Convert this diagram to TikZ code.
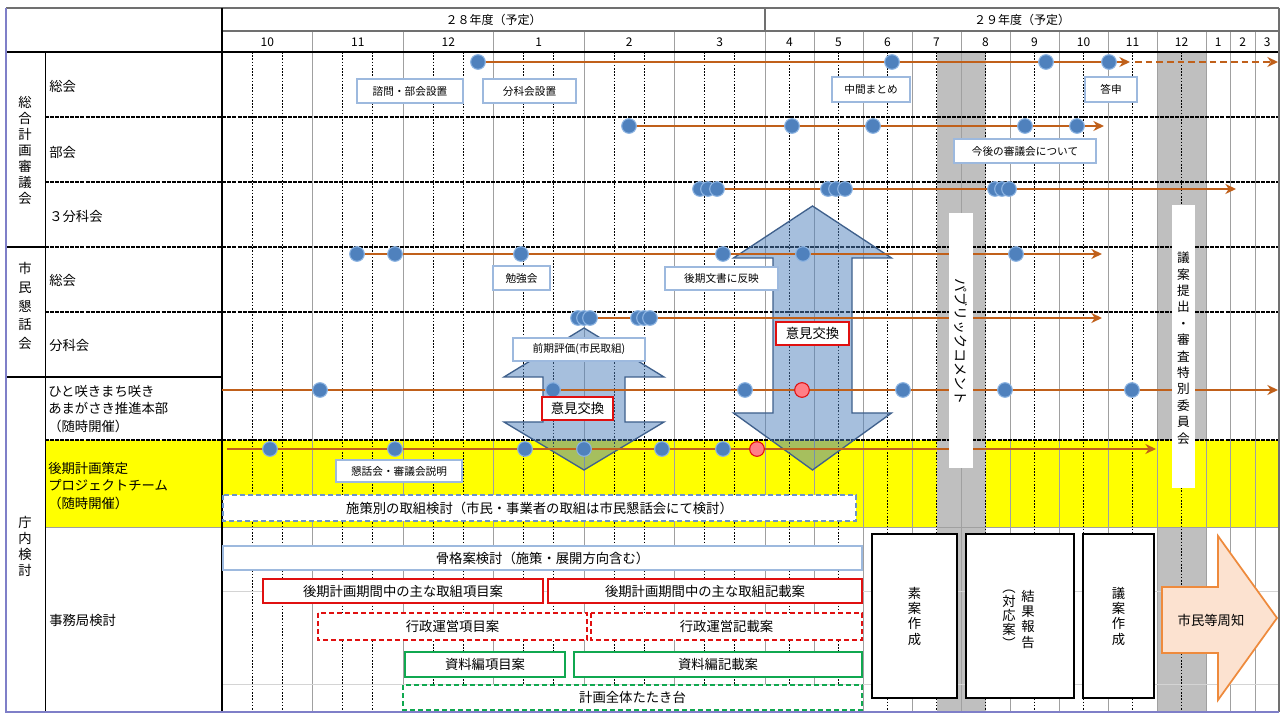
\documentclass[tikz,border=0pt]{standalone}
\usepackage{fontspec}
\setmainfont{Noto Sans CJK JP}
\usepackage{tikz}
\usetikzlibrary{arrows.meta}
\definecolor{plan_orange}{HTML}{C0601A}
\definecolor{plan_blue}{HTML}{4F81BD}
\definecolor{plan_circleline}{HTML}{8DB4E2}
\definecolor{plan_boxblue}{HTML}{9DB9DE}
\definecolor{plan_dashblue}{HTML}{6C94C8}
\definecolor{plan_red}{HTML}{E01010}
\definecolor{plan_pink}{HTML}{FF7F86}
\definecolor{plan_green}{HTML}{10A850}
\definecolor{plan_gray}{HTML}{BFBFBF}
\definecolor{plan_grid}{HTML}{A0A0A0}
\definecolor{plan_frame}{HTML}{7F7FC8}
\definecolor{plan_yellow}{HTML}{FFFF00}
\definecolor{plan_peach}{HTML}{FCE2D0}
\definecolor{plan_peachline}{HTML}{EE8A3C}
\definecolor{plan_arrowline}{HTML}{3F608C}

%% Rahmen + Text in der Mitte
\newcommand{\planbox}[6]{%
    \draw[#1] #4 rectangle #5;
    \path #4 -- node[#3] (#2) {#6} #5;
}

\begin{document}
\begin{tikzpicture}[
    x=0.75pt, y=-0.75pt,
    gridsolid/.style={draw=plan_grid, line width=0.7pt},
    griddot/.style={draw=black, line width=0.6pt, dash pattern=on 1.2pt off 1.2pt},
    rowsep/.style={draw=black, line width=1pt, dash pattern=on 3pt off 0.8pt},
    hdr/.style={font=\fontsize{9}{10}\selectfont, inner sep=0pt},
    rowlbl/.style={anchor=west, align=left, font=\fontsize{10}{13}\selectfont, inner sep=0pt},
    grouplbl/.style={align=center, inner sep=0pt},
    flow/.style={draw=plan_orange, line width=2pt, -{Stealth[length=8pt, width=7.5pt]}},
    evt/.style={circle, fill=plan_blue, draw=plan_circleline, line width=0.8pt, minimum size=11pt, inner sep=0pt},
    evtred/.style={evt, fill=plan_pink, draw=plan_red},
    bigarrow/.style={fill=plan_blue, fill opacity=0.5, draw=plan_arrowline, line width=1pt},
    lbl/.style={fill=white, draw=plan_boxblue, line width=1.3pt},
    lbltext/.style={font=\fontsize{8}{9}\selectfont, inner sep=0pt},
    swapbox/.style={fill=white, draw=plan_red, line width=1.8pt},
    swaptext/.style={font=\fontsize{10}{11}\selectfont, inner sep=0pt},
    taskbox/.style={fill=white, line width=1.3pt},
    taskdash/.style={taskbox, dash pattern=on 4pt off 2pt},
    tasktext/.style={font=\fontsize{10}{11}\selectfont, inner sep=0pt},
    phasebox/.style={fill=white, draw=black, line width=2.2pt},
    stacktext/.style={align=center, inner sep=0pt, font=\fontsize{10}{11.5}\selectfont}
]
\useasboundingbox (0,0) rectangle (1282,716);
\fill[white] (0,0) rectangle (1282,716);

%% ---- 黄色の行（プロジェクトチーム） ----
\fill[plan_yellow] (45,440) rectangle (1279,527);

%% ---- グレーの期間 ----
\fill[plan_gray] (937,52) rectangle (986,712);
\fill[plan_gray] (1157,52) rectangle (1206,440);
\fill[plan_gray] (1157,527) rectangle (1206,712);

%% ---- 月の罫線 ----
\foreach \i in {1,...,6}
    \draw[gridsolid] ({222+90.5*\i},31) -- ({222+90.5*\i},712);
\foreach \i in {0,...,5}
    \foreach \j in {1,2}
        \draw[griddot] ({222+90.5*\i+30.17*\j},52) -- ({222+90.5*\i+30.17*\j},712);
\foreach \i in {1,...,9}
    \draw[gridsolid] ({765+49*\i},31) -- ({765+49*\i},712);
\foreach \i in {0,...,8}
    \draw[griddot] ({789.5+49*\i},52) -- ({789.5+49*\i},712);
\foreach \x in {1230.5,1255}
    \draw[gridsolid] (\x,31) -- (\x,712);

%% ---- 行の区切り ----
\foreach \y in {117,182,247,312,440}
    \draw[rowsep] (45,\y) -- (1279,\y);
\draw[black, line width=0.8pt] (6,247) -- (45,247);
\draw[black, line width=0.8pt] (6,377) -- (222,377);
\draw[plan_grid, line width=0.6pt] (45,527) -- (1279,527);
\foreach \y in {591,684}
    \draw[plan_grid!45, line width=0.5pt] (222,\y) -- (1279,\y);

%% ---- 外枠と見出しの線 ----
\draw[plan_grid!70!black, line width=0.8pt] (6,8) -- (1279,8);
\draw[plan_grid!70!black, line width=0.8pt] (222,31) -- (1279,31);
\draw[black, line width=1.3pt] (6,52) -- (1279,52);
\draw[black, line width=0.9pt] (222,8) -- (222,712);
\draw[plan_grid!70!black, line width=0.8pt] (765,8) -- (765,31);
\draw[black, line width=0.6pt] (45,52) -- (45,712);
\draw[plan_grid!70!black, line width=0.8pt] (1279,8) -- (1279,712);
\draw[plan_frame, line width=1pt] (6,8) -- (6,712) -- (1279,712);

%% ---- 見出し ----
\node[hdr] (year28) at (493.5,19.5) {２８年度（予定）};
\node[hdr] (year29) at (1022,19.5) {２９年度（予定）};
\foreach \m [count=\i from 0] in {10,11,12,1,2,3}
    \node[hdr] (mon28-\m) at ({267.25+90.5*\i},42) {\m};
\foreach \m [count=\i from 0] in {4,...,12}
    \node[hdr] (mon29-\m) at ({789.5+49*\i},42) {\m};
\foreach \m [count=\i from 0] in {1,2,3}
    \node[hdr] (mon30-\m) at ({1218.25+24.5*\i},42) {\m};

%% ---- 左の見出し ----
\node[grouplbl, font=\fontsize{10}{12}\selectfont] (grpCouncil) at (25,150) {総\\合\\計\\画\\審\\議\\会};
\node[grouplbl, font=\fontsize{10}{14}\selectfont] (grpForum) at (25,306) {市\\民\\懇\\話\\会};
\node[grouplbl, font=\fontsize{10}{12}\selectfont] (grpOffice) at (25,546) {庁\\内\\検\\討};

\node[rowlbl] (rowSoukai) at (49,86) {総会};
\node[rowlbl] (rowBukai) at (49,152) {部会};
\node[rowlbl] (rowBunka) at (49,216) {３分科会};
\node[rowlbl] (rowForum) at (49,280) {総会};
\node[rowlbl] (rowForumBunka) at (49,345) {分科会};
\node[rowlbl] (rowHonbu) at (48,409) {ひと咲きまち咲き\\あまがさき推進本部\\（随時開催）};
\node[rowlbl] (rowPT) at (48,486) {後期計画策定\\プロジェクトチーム\\（随時開催）};
\node[rowlbl] (rowJimu) at (49,620) {事務局検討};

%% ---- 意見交換の矢印 ----
\filldraw[bigarrow]
    (584,328) -- (664,377) -- (625,377) -- (625,422) -- (664,422)
    -- (584,470) -- (504,422) -- (543,422) -- (543,377) -- (504,377) -- cycle;
\filldraw[bigarrow]
    (812.5,206) -- (891.5,258) -- (852,258) -- (852,413) -- (891.5,413)
    -- (812.5,470) -- (733.5,413) -- (773,413) -- (773,258) -- (733.5,258) -- cycle;

%% ---- 審議会：総会 ----
\coordinate (sgStart) at (478,62);
\coordinate (sgEnd) at (1130,62);
\coordinate (sgNext) at (1135,62);
\coordinate (sgLast) at (1278,62);
\draw[flow] (sgStart) -- (sgEnd);
\draw[flow, dash pattern=on 5pt off 3pt] (sgNext) -- (sgLast);
\foreach \x [count=\i] in {478,892,1046,1109}
    \node[evt] (sg\i) at (\x,62) {};

%% ---- 審議会：部会 ----
\coordinate (bkStart) at (629,126);
\coordinate (bkEnd) at (1104,126);
\draw[flow] (bkStart) -- (bkEnd);
\foreach \x [count=\i] in {629,792,873,1025,1077}
    \node[evt] (bk\i) at (\x,126) {};

%% ---- 審議会：３分科会 ----
\coordinate (bnStart) at (700,189);
\coordinate (bnEnd) at (1236,189);
\draw[flow] (bnStart) -- (bnEnd);
\foreach \x [count=\i] in {700,708,717,828,836,845,995,1002,1009}
    \node[evt] (bn\i) at (\x,189) {};

%% ---- 懇話会：総会 ----
\coordinate (shStart) at (357,254);
\coordinate (shEnd) at (1102,254);
\draw[flow] (shStart) -- (shEnd);
\foreach \x [count=\i] in {357,395,521,723,803,1016}
    \node[evt] (sh\i) at (\x,254) {};

%% ---- 懇話会：分科会 ----
\coordinate (sbStart) at (580,318);
\coordinate (sbEnd) at (1102,318);
\draw[flow] (sbStart) -- (sbEnd);
\foreach \x [count=\i] in {578,584,590,638,644,650}
    \node[evt] (sb\i) at (\x,318) {};

%% ---- 推進本部 ----
\coordinate (hmStart) at (222,390);
\coordinate (hmEnd) at (1278,390);
\draw[flow] (hmStart) -- (hmEnd);
\foreach \x [count=\i] in {320,553,745,903,1005,1132}
    \node[evt] (hm\i) at (\x,390) {};
\node[evtred] (hmRed) at (802,390) {};

%% ---- プロジェクトチーム ----
\coordinate (ptStart) at (227,449);
\coordinate (ptEnd) at (1156,449);
\draw[flow] (ptStart) -- (ptEnd);
\foreach \x [count=\i] in {270,395,525,584,662,723}
    \node[evt] (pt\i) at (\x,449) {};
\node[evtred] (ptRed) at (757,449) {};

%% ---- 縦の白い帯 ----
\fill[white] (949,213) rectangle (973,468);
\node[rotate=-90, font=\fontsize{10.5}{12}\selectfont, inner sep=0pt] (pubcom) at (961,342) {パブリックコメント};
\fill[white] (1172,205) rectangle (1195,488);
\node[stacktext, font=\fontsize{9.5}{12.3}\selectfont] (gianTeishutsu) at (1183.5,348)
    {議\\案\\提\\出\\・\\審\\査\\特\\別\\委\\員\\会};

%% ---- 吹き出しラベル ----
\planbox{lbl}{lbShimon}{lbltext}{(357,79)}{(463,103)}{諮問・部会設置}
\planbox{lbl}{lbBunka}{lbltext}{(483,79)}{(576,103)}{分科会設置}
\planbox{lbl}{lbChukan}{lbltext}{(832,77)}{(910,102)}{中間まとめ}
\planbox{lbl}{lbToshin}{lbltext}{(1085,77)}{(1137,102)}{答申}
\planbox{lbl}{lbKongo}{lbltext}{(954,139)}{(1096,163)}{今後の審議会について}
\planbox{lbl}{lbBenkyo}{lbltext}{(493,266)}{(550,290)}{勉強会}
\planbox{lbl}{lbHanei}{lbltext}{(665,267)}{(778,290)}{後期文書に反映}
\planbox{lbl}{lbZenki}{lbltext}{(513,338)}{(645,361)}{前期評価(市民取組)}
\planbox{lbl}{lbSetsumei}{lbltext}{(336,460)}{(462,482)}{懇話会・審議会説明}
\planbox{swapbox}{swapA}{swaptext}{(542,397)}{(613,420)}{意見交換}
\planbox{swapbox}{swapB}{swaptext}{(776,322)}{(849,345)}{意見交換}

%% ---- 庁内の作業 ----
\planbox{taskdash, draw=plan_dashblue}{tkShisaku}{tasktext}{(223,495)}{(856,521)}{施策別の取組検討（市民・事業者の取組は市民懇話会にて検討）}
\planbox{taskbox, draw=plan_boxblue}{tkKokaku}{tasktext}{(223,546)}{(862,570)}{骨格案検討（施策・展開方向含む）}
\planbox{taskbox, draw=plan_red}{tkTorikumiKoumoku}{tasktext}{(263,579)}{(543,603)}{後期計画期間中の主な取組項目案}
\planbox{taskbox, draw=plan_red}{tkTorikumiKisai}{tasktext}{(548,579)}{(862,603)}{後期計画期間中の主な取組記載案}
\planbox{taskdash, draw=plan_red}{tkGyoseiKoumoku}{tasktext}{(318,613)}{(587,640)}{行政運営項目案}
\planbox{taskdash, draw=plan_red}{tkGyoseiKisai}{tasktext}{(591,613)}{(862,640)}{行政運営記載案}
\planbox{taskbox, draw=plan_green}{tkShiryoKoumoku}{tasktext}{(405,652)}{(565,677)}{資料編項目案}
\planbox{taskbox, draw=plan_green}{tkShiryoKisai}{tasktext}{(574,652)}{(862,677)}{資料編記載案}
\planbox{taskdash, draw=plan_green}{tkTatakidai}{tasktext}{(403,685)}{(862,710)}{計画全体たたき台}

%% ---- 素案・結果報告・議案 ----
\planbox{phasebox}{phSoan}{stacktext}{(872,534)}{(957,698)}{素\\案\\作\\成}
\draw[phasebox] (966,534) rectangle (1074,698);
\node[stacktext] (phKekka) at (1028,619) {結\\果\\報\\告};
\node[stacktext, font=\fontsize{10}{10.5}\selectfont] (phTaiou) at (1009,619) {︵\\対\\応\\案\\︶};
\planbox{phasebox}{phGian}{stacktext}{(1083,534)}{(1154,698)}{議\\案\\作\\成}

%% ---- 市民等周知 ----
\filldraw[fill=plan_peach, draw=plan_peachline, line width=1.3pt]
    (1162,587) -- (1218,587) -- (1218,536) -- (1277,618)
    -- (1218,700) -- (1218,653) -- (1162,653) -- cycle;
\node[tasktext] (shuchi) at (1211,620) {市民等周知};

\end{tikzpicture}
\end{document}
